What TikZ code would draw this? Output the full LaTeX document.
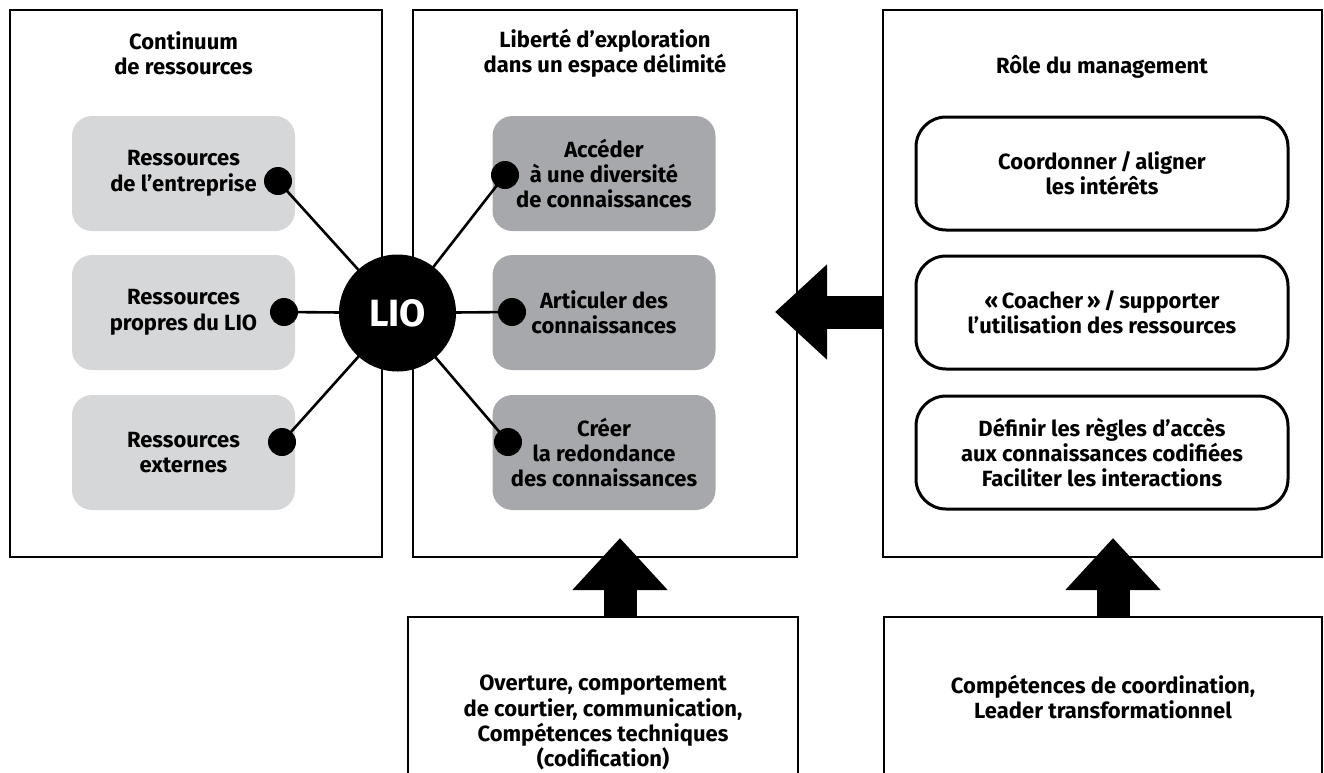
\documentclass[tikz,border=0pt]{standalone}
\usepackage{fontspec}
\setmainfont{Fira Sans}
\usetikzlibrary{arrows.meta}
\definecolor{lightgr}{RGB}{214,215,217}
\definecolor{darkgr}{RGB}{167,168,171}
\tikzset{
  txt/.style={align=center, font=\fontsize{11}{12.7}\selectfont\bfseries},
  panel/.style={draw, line width=1.4pt, minimum height=273.5pt, inner sep=0pt},
  basebox/.style={draw, line width=1pt, minimum height=91.5pt},
  resbox/.style={txt, fill=lightgr, rounded corners=10pt, minimum width=111.5pt, minimum height=57.5pt},
  actbox/.style={resbox, fill=darkgr},
  rolebox/.style={txt, draw, line width=1.5pt, rounded corners=15pt, minimum width=186pt, minimum height=56.5pt},
  joint/.style={circle, fill=black, minimum size=14pt, inner sep=0pt},
  lio/.style={circle, fill=black, text=white, minimum size=58.5pt, inner sep=0pt, font=\fontsize{19}{22}\selectfont\bfseries},
  link/.style={line width=1.3pt},
  fatarrow/.style={line width=16.5pt, -{Triangle[width=46pt, length=26pt]}}
}
\begin{document}
\begin{tikzpicture}[x=0.5pt, y=-0.5pt]
\clip (0,0) rectangle (1324,772);
\node[panel, minimum width=186pt] (lframe) at (196,283.5) {};
\node[panel, minimum width=192pt] (mframe) at (605,283.5) {};
\node[panel, minimum width=219.5pt] (rframe) at (1102.5,283.5) {};

\node[txt] (lhead) at (183.5,53) {Continuum\\de ressources};
\node[txt] (mhead) at (605,53) {Liberté d’exploration\\dans un espace délimité};
\node[txt] (rhead) at (1102,67) {Rôle du management};

\node[resbox] (res1) at (183.5,173.5) {Ressources\\de l’entreprise};
\node[resbox] (res2) at (183.5,312.5) {Ressources\\propres du LIO};
\node[resbox] (res3) at (183.5,452.5) {Ressources\\externes};

\node[actbox] (act1) at (604,173.5) {Accéder\\à une diversité\\de connaissances};
\node[actbox] (act2) at (604,312.5) {Articuler des\\connaissances};
\node[actbox] (act3) at (604,452.5) {Créer\\la redondance\\des connaissances};

\node[rolebox] (role1) at (1102,173.5) {Coordonner\,/\,aligner\\les intérêts};
\node[rolebox] (role2) at (1102,312.5) {«\,Coacher\,»\,/\,supporter\\l’utilisation des ressources};
\node[rolebox] (role3) at (1102,452.5) {Définir les règles d’accès\\aux connaissances codifiées\\Faciliter les interactions};

\node[basebox, minimum width=195pt] (mbase) at (603,708.5) {};
\node[basebox, minimum width=219pt] (rbase) at (1103,708.5) {};
\node[txt, anchor=north] (mskill) at (mbase.north |- 0,668) {Overture, comportement\\de courtier, communication,\\Compétences techniques\\(codification)};
\node[txt, anchor=north] (rskill) at (rbase.north |- 0,668) {Compétences de coordination,\\Leader transformationnel};

\coordinate (hub) at (397.5,313);
\foreach \n/\x/\y in {1/278/181, 2/284/312, 3/282/442, 4/505/175, 5/512/312, 6/508/442}
{
  \coordinate (p\n) at (\x,\y);
  \draw[link] (hub) -- (p\n);
  \node[joint] (j\n) at (p\n) {};
}
\node[lio] (lio) at (hub) {LIO};

\coordinate (tipL) at (775,312);
\coordinate (tipM) at (620,538);
\coordinate (tipR) at (1113,538);
\draw[fatarrow] (rframe.west |- tipL) -- (tipL);
\draw[fatarrow] (mbase.north -| tipM) -- (tipM);
\draw[fatarrow] (rbase.north -| tipR) -- (tipR);
\end{tikzpicture}
\end{document}
